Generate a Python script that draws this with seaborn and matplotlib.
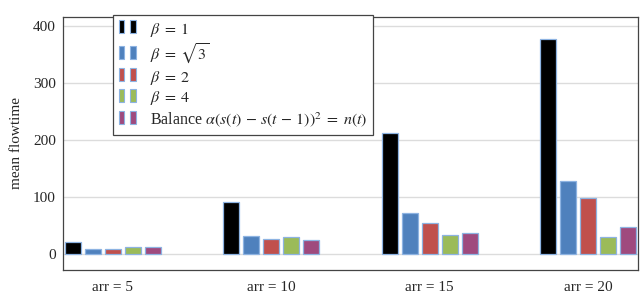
import matplotlib

matplotlib.use("Agg")

import matplotlib.pyplot as plt
import pandas as pd
import seaborn as sns
from matplotlib.legend_handler import HandlerBase
from matplotlib.patches import Patch, Rectangle

# data
groups = ["arr = 5", "arr = 10", "arr = 15", "arr = 20"]
series = [
    r"$\beta\;=\;1$",
    r"$\beta\;=\;\sqrt{3}$",
    r"$\beta\;=\;2$",
    r"$\beta\;=\;4$",
    r"Balance $\alpha(s(t)\,-\,s(t\,-\,1))^2\;=\;n(t)$",
]
beta_1 = [21, 91, 212, 377]
beta_sqrt3 = [9, 31, 72, 128]
beta_2 = [9, 26, 54, 98]
beta_4 = [12, 30, 33, 30]
balance = [12, 24, 36, 47]
colors = ["#000000", "#4f81bd", "#c0504d", "#9bbb59", "#9f4a7e"]
edge = "#8db3e2"

values = [beta_1, beta_sqrt3, beta_2, beta_4, balance]
rows = []
for name, vals in zip(series, values):
    for g, v in zip(groups, vals):
        rows.append({"group": g, "series": name, "value": v})
df = pd.DataFrame(rows)


class TwoBarHandler(HandlerBase):
    def create_artists(self, legend, orig_handle, xdescent, ydescent,
                       width, height, fontsize, trans):
        h = height * 1.15
        y0 = -ydescent - (h - height) / 2 + height * 0.1
        bw = width * 0.3
        out = []
        for x0 in (-xdescent, -xdescent + width * 0.62):
            r = Rectangle((x0, y0), bw, h, facecolor=orig_handle.get_facecolor(),
                          edgecolor=edge, linewidth=0.8, transform=trans)
            out.append(r)
        return out


sns.set_theme(style="white")
plt.rcParams["font.family"] = ["Liberation Serif", "DejaVu Serif"]
plt.rcParams["mathtext.fontset"] = "stix"

fig = plt.figure(figsize=(6.4, 2.94), dpi=100)
ax = fig.add_axes([0.098, 0.082, 0.899, 0.860])

sns.barplot(data=df, x="group", y="value", hue="series", palette=colors,
            saturation=1, width=0.63, gap=0.2, edgecolor=edge, linewidth=0.9,
            legend=False, ax=ax, zorder=3)

ax.set_xlim(-0.315, 3.315)
ax.set_ylim(-28, 416)
ax.set_yticks([0, 100, 200, 300, 400])
ax.yaxis.grid(True, color="#dcdcdc", linewidth=1, zorder=0)
ax.set_axisbelow(True)
ax.set_xlabel("")
ax.set_ylabel("mean flowtime", fontsize=11, labelpad=7)
ax.tick_params(axis="x", length=0, pad=8, labelsize=11)
ax.tick_params(axis="y", length=0, pad=5, labelsize=11)
for sp in ax.spines.values():
    sp.set_color("#444444")
    sp.set_linewidth(0.9)

handles = [Patch(facecolor=c) for c in colors]
leg = fig.legend(handles, series, loc="upper left",
                 bbox_to_anchor=(113 / 640, 1 - 15 / 294),
                 bbox_transform=fig.transFigure, borderaxespad=0,
                 fancybox=False, framealpha=1, edgecolor="#444444",
                 fontsize=11.5, handlelength=1.2, handletextpad=0.75,
                 labelspacing=0.18, borderpad=0.35,
                 handler_map={Patch: TwoBarHandler()})
leg.get_frame().set_linewidth(0.9)

plt.savefig("out.png", dpi=100)
plt.close()
